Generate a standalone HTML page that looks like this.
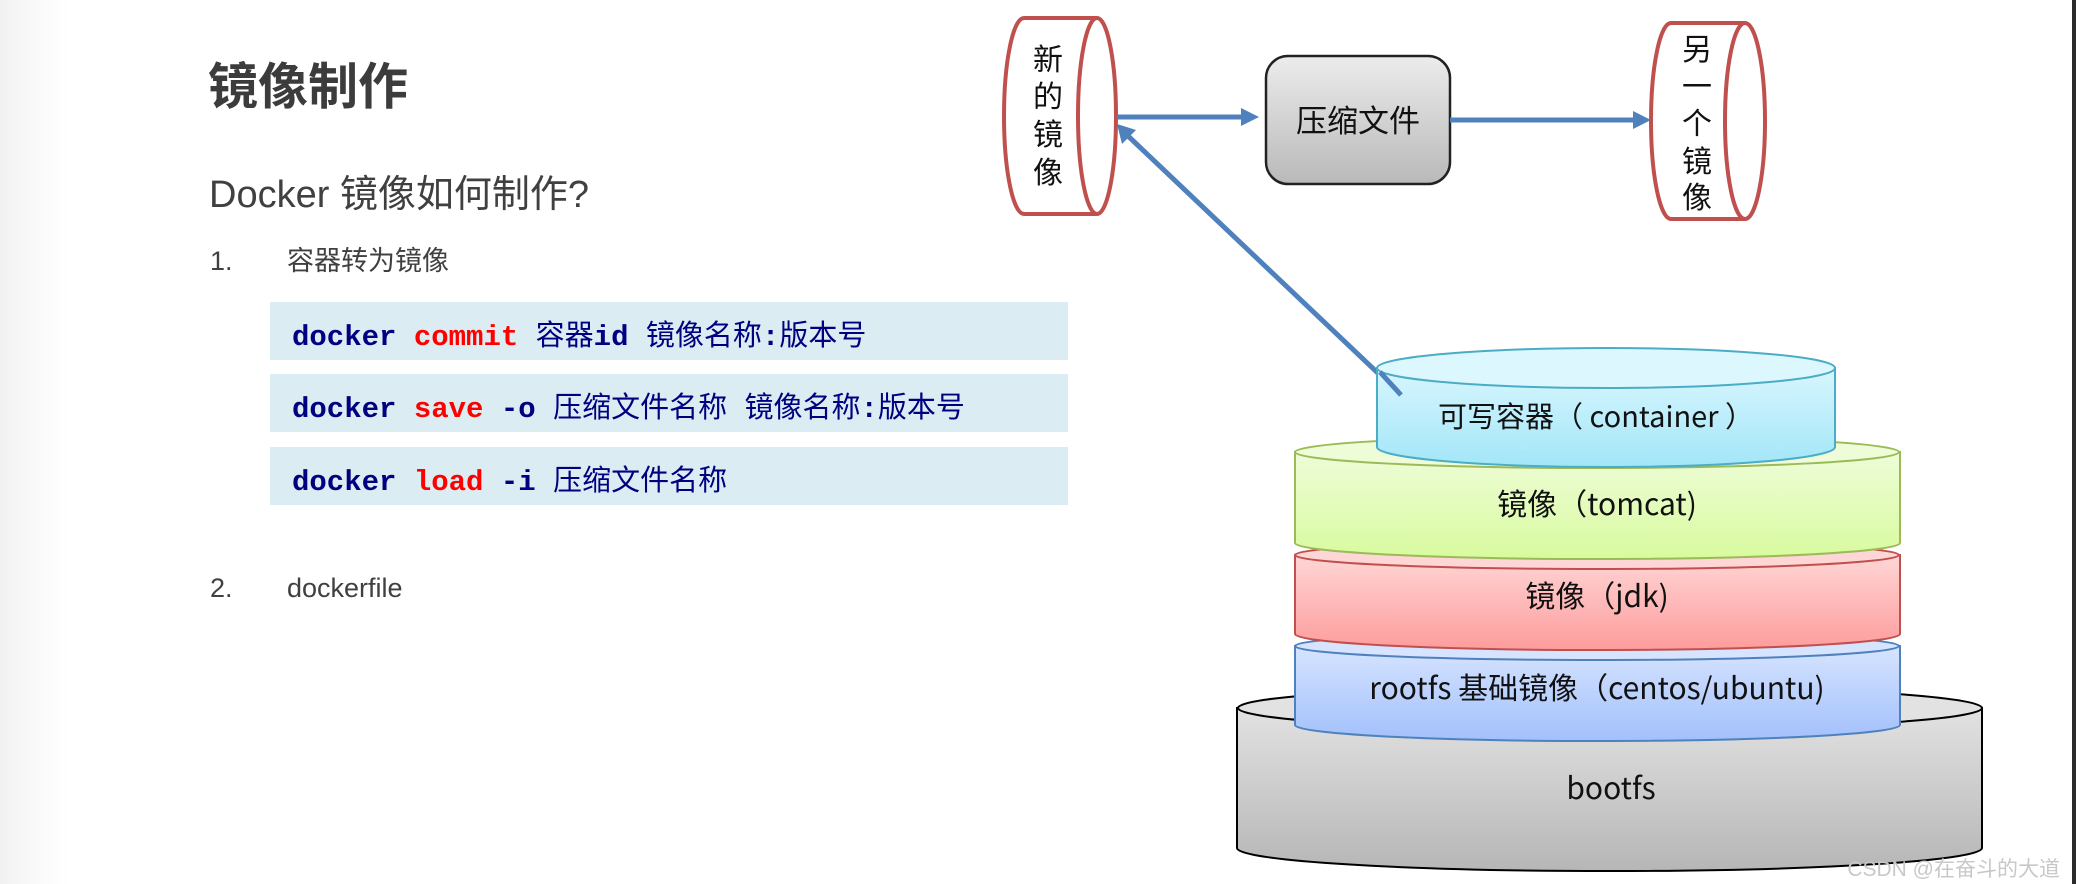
<!DOCTYPE html>
<html><head><meta charset="utf-8">
<style>
html,body{margin:0;padding:0;}
body{width:2076px;height:884px;position:relative;overflow:hidden;background:linear-gradient(90deg,#f1f1f1 0px,#fafafa 35px,#fff 70px);font-family:"Liberation Sans","Noto Sans CJK SC",sans-serif;}
.t{position:absolute;white-space:nowrap;color:#404040;}
.code{position:absolute;left:270px;width:798px;height:58px;background:#dbedf3;}
.code span.c{position:absolute;left:22px;top:10px;font-family:"Liberation Mono","Noto Sans CJK SC",monospace;font-weight:bold;font-size:29px;color:#000080;white-space:pre;}
.r{color:#ff0000;}
.z{font-family:"Noto Sans CJK SC",sans-serif;font-weight:normal;}
</style></head><body>
<div class="t" style="left:208px;top:48px;font-size:50px;font-weight:bold;color:#3c3c3c;font-family:'Noto Sans CJK SC',sans-serif;line-height:70px;">镜像制作</div>
<div class="t" style="left:209px;top:170px;font-size:38px;line-height:50px;">Docker 镜像如何制作?</div>
<div class="t" style="left:210px;top:243px;font-size:27px;line-height:36px;">1.</div>
<div class="t" style="left:287px;top:243px;font-size:27px;line-height:36px;">容器转为镜像</div>
<div class="code" style="top:302px;"><span class="c">docker <span class="r">commit</span> <span class="z">容器</span>id <span class="z">镜像名称</span>:<span class="z">版本号</span></span></div>
<div class="code" style="top:374px;"><span class="c">docker <span class="r">save</span> -o <span class="z">压缩文件名称</span> <span class="z">镜像名称</span>:<span class="z">版本号</span></span></div>
<div class="code" style="top:447px;"><span class="c">docker <span class="r">load</span> -i <span class="z">压缩文件名称</span></span></div>
<div class="t" style="left:210px;top:570px;font-size:27px;line-height:36px;">2.</div>
<div class="t" style="left:287px;top:570px;font-size:27px;line-height:36px;">dockerfile</div>

<svg style="position:absolute;left:0;top:0" width="2076" height="884" viewBox="0 0 2076 884">
<defs>
<linearGradient id="gbox" x1="0" y1="0" x2="0" y2="1"><stop offset="0" stop-color="#ececec"/><stop offset="1" stop-color="#b9b9b9"/></linearGradient>
<linearGradient id="gcy" x1="0" y1="0" x2="0" y2="1"><stop offset="0" stop-color="#d8f6fe"/><stop offset="1" stop-color="#a2e6f8"/></linearGradient>
<linearGradient id="ggr" x1="0" y1="0" x2="0" y2="1"><stop offset="0" stop-color="#eefcd8"/><stop offset="1" stop-color="#d8fb9e"/></linearGradient>
<linearGradient id="grd" x1="0" y1="0" x2="0" y2="1"><stop offset="0" stop-color="#ffd6d6"/><stop offset="1" stop-color="#fe9c9c"/></linearGradient>
<linearGradient id="gbl" x1="0" y1="0" x2="0" y2="1"><stop offset="0" stop-color="#d6e4ff"/><stop offset="1" stop-color="#a2c0fc"/></linearGradient>
<linearGradient id="ggy" x1="0" y1="0" x2="0" y2="1"><stop offset="0" stop-color="#e2e2e2"/><stop offset="1" stop-color="#b6b6b6"/></linearGradient>
</defs>
<g font-family="'Noto Sans CJK SC',sans-serif" fill="#111">
<!-- new image cylinder -->
<path d="M1097 18 L1024 18 A20 98 0 0 0 1024 214 L1097 214" fill="#fff" stroke="#c0504d" stroke-width="4"/>
<ellipse cx="1097" cy="116" rx="19" ry="98" fill="#fff" stroke="#c0504d" stroke-width="4"/>
<g font-size="30" text-anchor="middle"><text x="1048" y="70">新</text><text x="1048" y="107">的</text><text x="1048" y="145">镜</text><text x="1048" y="183">像</text></g>
<!-- another image -->
<path d="M1745 23 L1671 23 A20 98 0 0 0 1671 219 L1745 219" fill="#fff" stroke="#c0504d" stroke-width="4"/>
<ellipse cx="1745" cy="121" rx="20" ry="98" fill="#fff" stroke="#c0504d" stroke-width="4"/>
<g font-size="30" text-anchor="middle"><text x="1697" y="60">另</text><text x="1697" y="97">一</text><text x="1697" y="134">个</text><text x="1697" y="172">镜</text><text x="1697" y="208">像</text></g>
<!-- box -->
<rect x="1266" y="56" width="184" height="128" rx="22" fill="url(#gbox)" stroke="#222" stroke-width="2.5"/>
<text x="1358" y="132" font-size="31" text-anchor="middle">压缩文件</text>
<!-- arrows -->
<g stroke="#4f81bd" stroke-width="5" fill="#4f81bd">
<line x1="1117" y1="117" x2="1243" y2="117"/>
<polygon points="1259,117 1241,108 1241,126" stroke="none"/>
<line x1="1450" y1="120" x2="1635" y2="120"/>
<polygon points="1651,120 1633,111 1633,129" stroke="none"/>
<line x1="1401" y1="395" x2="1127" y2="135"/>
<polygon points="1117,124 1122,144 1136,130" stroke="none"/>
</g>
<!-- bootfs -->
<path d="M1237 708 L1237 848 A372 23 0 0 0 1982 848 L1982 708 Z" fill="url(#ggy)" stroke="#000" stroke-width="2"/>
<ellipse cx="1610" cy="708" rx="372" ry="22" fill="#e2e2e2" stroke="#000" stroke-width="2"/>
<text x="1611" y="799" font-size="30" text-anchor="middle">bootfs</text>
<!-- rootfs -->
<path d="M1295 646 L1295 725 A302 16 0 0 0 1900 725 L1900 646 Z" fill="url(#gbl)" stroke="#4f81bd" stroke-width="2"/>
<ellipse cx="1597" cy="646" rx="302" ry="14" fill="#d6e4ff" stroke="#4f81bd" stroke-width="2"/>
<text x="1597" y="699" font-size="30" text-anchor="middle">rootfs 基础镜像（centos/ubuntu)</text>
<!-- jdk -->
<path d="M1295 555 L1295 634 A302 16 0 0 0 1900 634 L1900 555 Z" fill="url(#grd)" stroke="#c0504d" stroke-width="2"/>
<ellipse cx="1597" cy="555" rx="302" ry="14" fill="#ffd6d6" stroke="#c0504d" stroke-width="2"/>
<text x="1597" y="607" font-size="30" text-anchor="middle">镜像（jdk)</text>
<!-- tomcat -->
<path d="M1295 452 L1295 543 A302 16 0 0 0 1900 543 L1900 452 Z" fill="url(#ggr)" stroke="#9bbb59" stroke-width="2"/>
<ellipse cx="1597" cy="452" rx="302" ry="16" fill="#eefcd8" stroke="#9bbb59" stroke-width="2"/>
<text x="1597" y="515" font-size="30" text-anchor="middle">镜像（tomcat)</text>
<!-- container -->
<path d="M1377 368 L1377 447 A229 20 0 0 0 1835 447 L1835 368 Z" fill="url(#gcy)" stroke="#4bacc6" stroke-width="2"/>
<ellipse cx="1606" cy="368" rx="229" ry="20" fill="#dcf7fe" stroke="#4bacc6" stroke-width="2"/>
<line x1="1380" y1="372" x2="1401" y2="395" stroke="#4f81bd" stroke-width="5"/>
<text x="1596" y="427" font-size="29" text-anchor="middle">可写容器（ container ）</text>
<text x="2060" y="876" font-size="21" fill="#c8c8c8" text-anchor="end" font-family="'Liberation Sans','Noto Sans CJK SC',sans-serif">CSDN @在奋斗的大道</text>
</g>
<rect x="2072" y="0" width="4" height="884" fill="#2b2b2b"/>
</svg>
</body></html>
